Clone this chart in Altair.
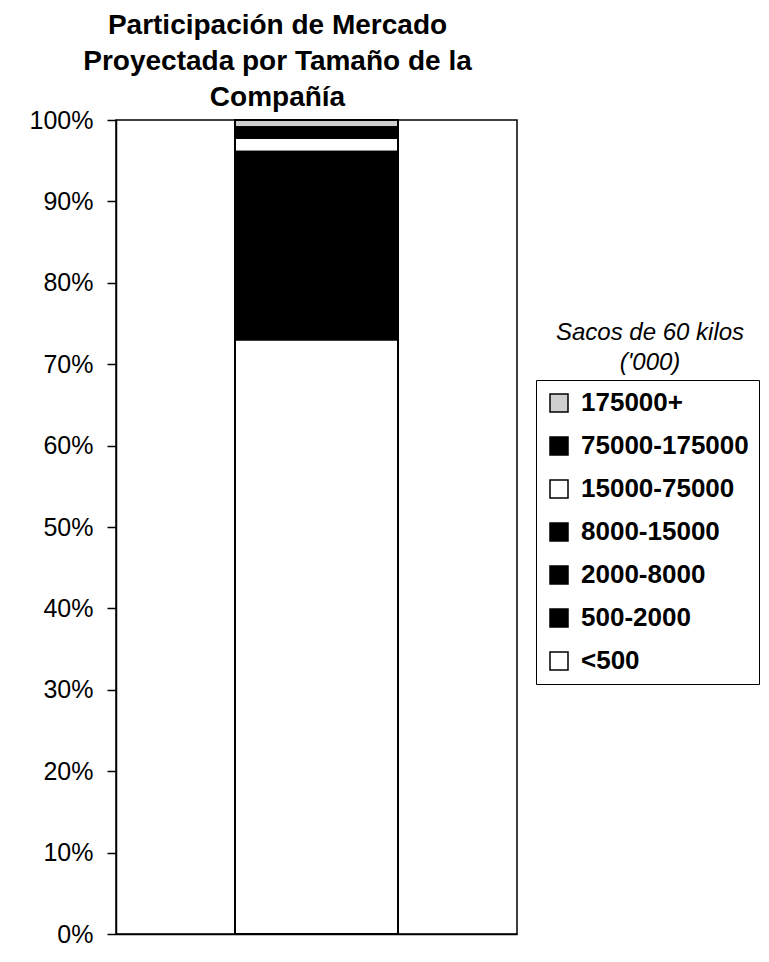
import altair as alt
import pandas as pd

# ---- data ----
categorias = ["175000+", "75000-175000", "15000-75000", "8000-15000",
              "2000-8000", "500-2000", "<500"]
participacion = [0.9, 1.3, 1.7, 5.1, 8.0, 10.0, 73.0]   # % of market
orden = [6, 5, 4, 3, 2, 1, 0]                            # stacking order (bottom = 0)
colores = ["#cfcfcf", "#000000", "#ffffff", "#000000", "#000000", "#000000", "#ffffff"]
ticks_y = [0, 10, 20, 30, 40, 50, 60, 70, 80, 90, 100]
titulo = ["Participación de Mercado", "Proyectada por Tamaño de la", "Compañía"]
titulo_leyenda = ["Sacos de 60 kilos", "('000)"]

df = pd.DataFrame({
    "grupo": ["Mercado"] * len(categorias),
    "tamano": categorias,
    "valor": participacion,
    "orden": orden,
})

FONT = "Liberation Sans"

bars = alt.Chart(df).mark_bar(stroke="black", strokeWidth=2).encode(
    x=alt.X("grupo:N",
            scale=alt.Scale(paddingInner=0, paddingOuter=0.73),
            axis=alt.Axis(labels=False, ticks=False, title=None,
                          domainColor="black", domainWidth=1.5)),
    y=alt.Y("valor:Q", stack="zero",
            scale=alt.Scale(domain=[0, 100], nice=False),
            axis=alt.Axis(values=ticks_y, labelExpr="datum.value + '%'",
                          title=None, grid=False, tickSize=9, tickColor="black",
                          tickWidth=1.5, domainColor="black", domainWidth=1.5,
                          labelFontSize=25, labelFont=FONT, labelColor="black",
                          labelPadding=14)),
    color=alt.Color("tamano:N",
                    scale=alt.Scale(domain=categorias, range=colores),
                    legend=alt.Legend(orient="none", legendX=420, legendY=260,
                                      title=None, strokeColor="black",
                                      padding=10, symbolType="square",
                                      symbolSize=324, symbolStrokeColor="black",
                                      symbolStrokeWidth=1.5, labelFontSize=26,
                                      labelFont=FONT, labelFontWeight="bold",
                                      labelColor="black", labelOffset=9,
                                      rowPadding=17, labelLimit=400)),
    order=alt.Order("orden:Q", sort="ascending"),
)

leg_title = alt.Chart(pd.DataFrame({"t": ["\n".join(titulo_leyenda)]})).mark_text(
    x=534, y=220, align="center", baseline="alphabetic", lineBreak="\n",
    lineHeight=30, fontSize=24, fontStyle="italic", font=FONT, color="black"
).encode(text="t:N")

chart = alt.layer(bars, leg_title).properties(
    width=401, height=814,
    autosize=alt.AutoSizeParams(type="none"),
    padding={"left": 108, "top": 112, "right": 244, "bottom": 14},
    title=alt.Title(titulo, anchor="middle", fontSize=28, font=FONT,
                    fontWeight="bold", color="black", lineHeight=36,
                    dx=-39, offset=-4),
).configure_view(stroke="black", strokeWidth=1.5)

chart.save("out.html", embed_options={"renderer": "svg", "actions": False})
